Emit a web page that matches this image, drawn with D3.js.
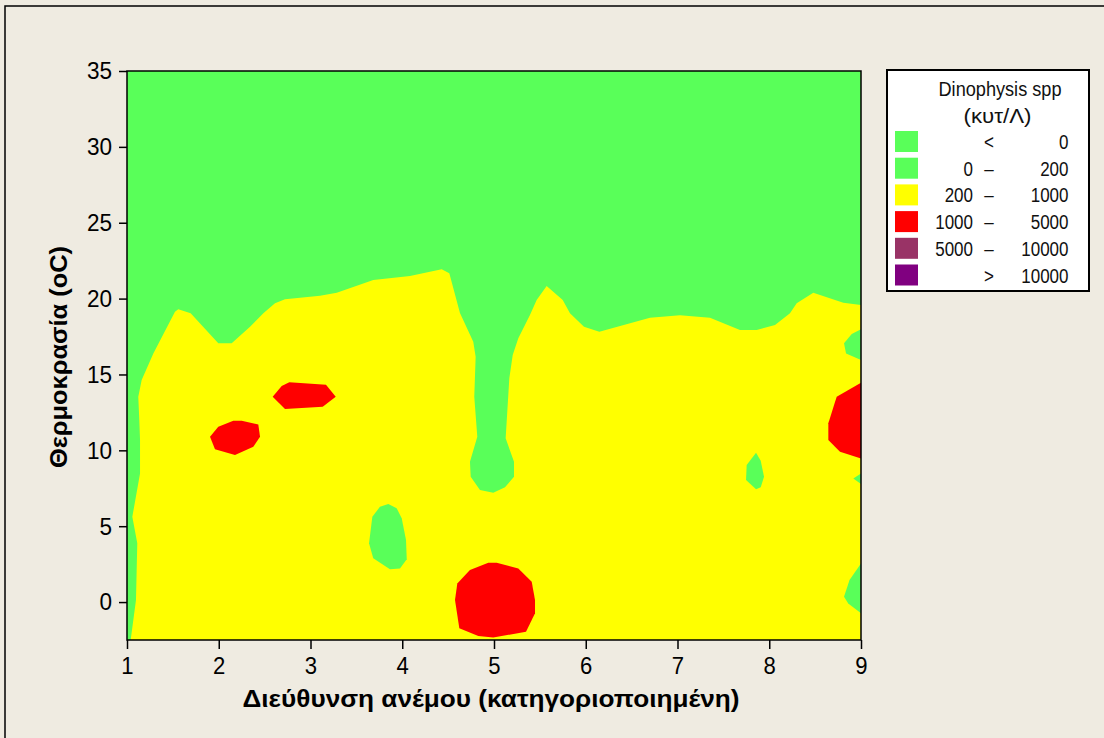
<!DOCTYPE html>
<html><head><meta charset="utf-8">
<script src="https://cdn.jsdelivr.net/npm/d3@7"></script>
<style>
html,body{margin:0;padding:0;background:#EFEBE1;}
svg{display:block;}
</style></head>
<body>
<svg id="chart" width="1104" height="738"></svg>
<script>
// ---------- data ----------
const xTicks = [1,2,3,4,5,6,7,8,9];
const yTicks = [0,5,10,15,20,25,30,35];
const xDomain = [1,9];
const yDomain = [-2.5,35];
const xTitle = "Διεύθυνση ανέμου (κατηγοριοποιημένη)";
const yTitle = "Θερμοκρασία (oC)";
const legendTitle = ["Dinophysis spp","(κυτ/Λ)"];
const legendLow = ["", "0", "200", "1000", "5000", ""];
const legendSep = ["<", "–", "–", "–", "–", ">"];
const legendHigh = ["0", "200", "1000", "5000", "10000", "10000"];
const levelColors = ["#59FF59","#59FF59","#FFFF00","#FF0000","#993366","#800080"];

// contour regions (wind direction, temperature); level index into levelColors
const backgroundLevel = 1; // 0–200 everywhere else
const yellowRegion = [
 [1.040,-2.5],[1.098,0.13],[1.112,3.87],[1.058,5.62],[1.142,8.48],[1.142,10.68],[1.134,12.0],
 [1.123,13.53],[1.160,14.63],[1.287,16.39],[1.523,19.14],[1.559,19.29],[1.694,19.03],[1.995,17.05],
 [2.141,17.05],[2.341,18.15],[2.486,19.03],[2.613,19.69],[2.722,19.95],[3.104,20.19],[3.286,20.39],
 [3.684,21.22],[4.084,21.49],[4.430,21.93],[4.513,21.67],[4.629,19.05],[4.774,17.16],[4.800,16.17],
 [4.785,13.53],[4.818,10.90],[4.738,9.25],[4.746,8.26],[4.847,7.38],[4.992,7.20],[5.120,7.56],
 [5.218,8.26],[5.218,9.25],[5.127,10.79],[5.167,14.75],[5.204,16.28],[5.265,17.38],[5.392,18.92],
 [5.465,19.91],[5.574,20.83],[5.749,19.91],[5.828,19.03],[5.981,18.15],[6.148,17.82],[6.700,18.74],
 [7.027,18.90],[7.354,18.74],[7.681,17.93],[7.863,17.93],[8.063,18.26],[8.226,19.03],[8.299,19.69],
 [8.480,20.39],[8.807,19.73],[9,19.58],[9,-2.5]
];
const greenIslandRight = [[9,17.98],[8.899,17.67],[8.815,17.05],[8.837,16.39],[9,15.95]];
const greenDrop8 = [[7.856,9.84],[7.754,9.03],[7.747,8.04],[7.856,7.43],[7.907,7.56],[7.943,8.26],[7.907,9.31]];
const greenTinyRight = [[9,8.48],[8.916,8.15],[9,7.78]];
const greenBottomRight = [[9,2.55],[8.875,1.45],[8.815,0.35],[8.861,-0.09],[9,-0.74]];
const greenDrop4 = [[3.848,6.46],[3.757,6.28],[3.674,5.62],[3.638,3.87],[3.684,2.88],[3.866,2.16],
 [3.975,2.22],[4.049,2.83],[4.041,4.09],[3.994,5.52],[3.939,6.18]];
const redRight = [[9,14.46],[8.735,13.53],[8.644,11.78],[8.644,10.68],[8.771,9.91],[9,9.47]];
const redBottom5 = [[4.938,2.59],[4.738,2.11],[4.600,1.23],[4.575,0.13],[4.622,-1.73],[4.829,-2.24],
 [4.992,-2.33],[5.349,-1.96],[5.447,-0.74],[5.447,0.13],[5.411,1.34],[5.265,2.22],[5.029,2.59]];
const red2 = [[1.905,10.90],[1.995,11.55],[2.159,11.95],[2.250,11.95],[2.431,11.71],[2.450,10.90],
 [2.377,10.24],[2.177,9.69],[1.959,10.07]];
const red3 = [[2.588,13.53],[2.686,14.24],[2.769,14.48],[3.169,14.32],[3.275,13.53],[3.133,12.87],[2.722,12.72]];

const regions = [
 {pts: yellowRegion, level: 2},
 {pts: greenIslandRight, level: 1},
 {pts: greenDrop8, level: 1},
 {pts: greenTinyRight, level: 1},
 {pts: greenBottomRight, level: 1},
 {pts: greenDrop4, level: 1},
 {pts: redRight, level: 3},
 {pts: redBottom5, level: 3},
 {pts: red2, level: 3},
 {pts: red3, level: 3}
];

// ---------- drawing ----------
const svg = d3.select("#chart");
const M = {left:127, right:861, top:71, bottom:640};
const x = d3.scaleLinear().domain(xDomain).range([M.left, M.right]);
const y = d3.scaleLinear().domain(yDomain).range([M.bottom, M.top]);

// horizontally condense text (reference type is narrow)
function squeeze(sel, k){
  sel.each(function(){
    const w = this.getComputedTextLength();
    if (w > 0) d3.select(this).attr("textLength", w*k).attr("lengthAdjust","spacingAndGlyphs");
  });
}

// outer frame
svg.append("rect").attr("x",5).attr("y",6).attr("width",1110).attr("height",740)
  .attr("fill","#EFEBE1").attr("stroke","#000").attr("stroke-width",1.5);

const clip = svg.append("defs").append("clipPath").attr("id","pc");
clip.append("rect").attr("x",M.left).attr("y",M.top).attr("width",M.right-M.left).attr("height",M.bottom-M.top);

const plot = svg.append("g").attr("clip-path","url(#pc)");
plot.append("rect").attr("x",x(xDomain[0])).attr("y",y(yDomain[1]))
  .attr("width",x(xDomain[1])-x(xDomain[0])).attr("height",y(yDomain[0])-y(yDomain[1]))
  .attr("fill",levelColors[backgroundLevel]);

const line = d3.line().x(d=>x(d[0])).y(d=>y(d[1])).curve(d3.curveLinearClosed);
plot.selectAll("path.reg").data(regions).join("path").attr("class","reg")
  .attr("d", d=>line(d.pts)).attr("fill", d=>levelColors[d.level]).attr("stroke","none");

// frame
svg.append("rect").attr("x",M.left).attr("y",M.top).attr("width",M.right-M.left).attr("height",M.bottom-M.top)
  .attr("fill","none").attr("stroke","#000").attr("stroke-width",1.5);

const font = "'Liberation Sans',Arial,sans-serif";

// x axis
const xAxis = svg.append("g").attr("transform",`translate(0,${M.bottom})`)
  .call(d3.axisBottom(x).tickValues(xTicks).tickSize(9).tickPadding(8).tickFormat(d3.format("d")));
xAxis.select(".domain").remove();
xAxis.selectAll("line").attr("stroke","#000").attr("stroke-width",1.5);
xAxis.selectAll("text").attr("font-family",font).attr("font-size",24).attr("fill","#000");
squeeze(xAxis.selectAll("text"), 0.92);

// y axis
const yAxis = svg.append("g").attr("transform",`translate(${M.left},0)`)
  .call(d3.axisLeft(y).tickValues(yTicks).tickSize(8).tickPadding(7).tickFormat(d3.format("d")));
yAxis.select(".domain").remove();
yAxis.selectAll("line").attr("stroke","#000").attr("stroke-width",1.5);
yAxis.selectAll("text").attr("font-family",font).attr("font-size",24.5).attr("fill","#000");
squeeze(yAxis.selectAll("text"), 0.92);

// titles
svg.append("text").attr("x",491).attr("y",707).attr("text-anchor","middle")
  .attr("font-family",font).attr("font-weight","bold").attr("font-size",23)
  .attr("textLength",497).attr("lengthAdjust","spacingAndGlyphs").text(xTitle);
svg.append("text").attr("transform","translate(67,357) rotate(-90)").attr("text-anchor","middle")
  .attr("font-family",font).attr("font-weight","bold").attr("font-size",23)
  .attr("textLength",222).attr("lengthAdjust","spacingAndGlyphs").text(yTitle);

// legend
const L = svg.append("g");
L.append("rect").attr("x",887).attr("y",70).attr("width",202).attr("height",221)
  .attr("fill","#fff").attr("stroke","#000").attr("stroke-width",2);
const titleW = [123, 68];
L.selectAll("text.lt").data(legendTitle).join("text").attr("class","lt")
  .attr("x",(d,i)=>i===0?1000:997.5).attr("y",(d,i)=>i===0?96:122.5).attr("text-anchor","middle")
  .attr("font-family",font).attr("font-size",20).attr("fill","#111")
  .attr("textLength",(d,i)=>titleW[i]).attr("lengthAdjust","spacingAndGlyphs").text(d=>d);
const rows = levelColors.map((c,i)=>({c, lo:legendLow[i], sep:legendSep[i], hi:legendHigh[i], i}));
const rg = L.selectAll("g.row").data(rows).join("g").attr("class","row")
  .attr("transform",d=>`translate(0,${131+d.i*26.7})`);
rg.append("rect").attr("x",895).attr("y",0).attr("width",23).attr("height",21).attr("fill",d=>d.c);
const tLo = rg.append("text").attr("x",973).attr("y",18).attr("text-anchor","end")
  .attr("font-family",font).attr("font-size",20).attr("fill","#111").text(d=>d.lo);
const tSep = rg.append("text").attr("x",989).attr("y",18).attr("text-anchor","middle")
  .attr("font-family",font).attr("font-size",20).attr("fill","#111").text(d=>d.sep);
const tHi = rg.append("text").attr("x",1068.5).attr("y",18).attr("text-anchor","end")
  .attr("font-family",font).attr("font-size",20).attr("fill","#111").text(d=>d.hi);
squeeze(tLo, 0.85); squeeze(tSep, 0.85); squeeze(tHi, 0.85);
</script>
</body></html>
